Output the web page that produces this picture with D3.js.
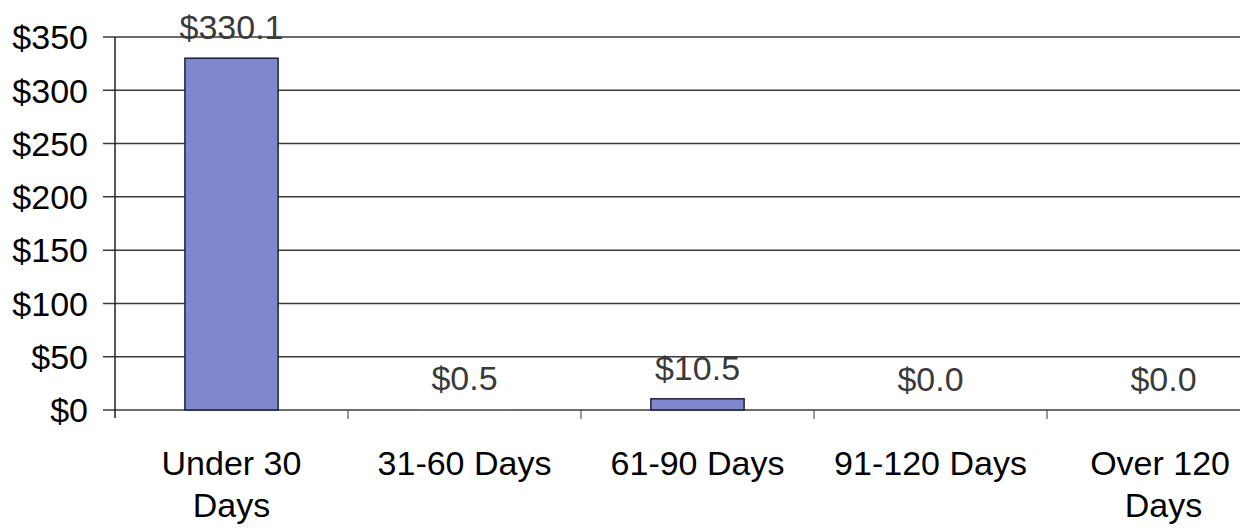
<!DOCTYPE html>
<html>
<head>
<meta charset="utf-8">
<script src="https://cdn.jsdelivr.net/npm/d3@7"></script>
<style>
  html, body { margin: 0; padding: 0; background: #fff; }
  svg { display: block; }
</style>
</head>
<body>
<svg id="chart" width="1251" height="531"></svg>
<script>
const categories = [['Under 30', 'Days'], ['31-60 Days'], ['61-90 Days'], ['91-120 Days'], ['Over 120', 'Days']];
const values = [330.1, 0.5, 10.5, 0.0, 0.0];
const yTicks = [0, 50, 100, 150, 200, 250, 300, 350];

const MARGIN = { top: 37, right: 11, bottom: 121, left: 115 };
const WIDTH = 1251 - MARGIN.left - MARGIN.right;
const HEIGHT = 531 - MARGIN.top - MARGIN.bottom;
// the scanned chart is cut off at the right, so the category bands run past the frame
const BAND_SPAN = 1165;

const BAR_FILL = '#7f88cc';
const BAR_STROKE = '#1e2040';
const GRID_COLOR = '#3a3a3a';
const FONT = 'Arial, "Liberation Sans", sans-serif';
const FONT_SIZE = '34px';

const svg = d3.select('#chart')
  .append('g')
  .attr('transform', `translate(${MARGIN.left},${MARGIN.top})`);

const x = d3.scaleBand()
  .domain(d3.range(categories.length))
  .range([0, BAND_SPAN])
  .padding(0);

const y = d3.scaleLinear()
  .domain([0, 350])
  .range([HEIGHT, 0]);

// horizontal gridlines, starting slightly left of the axis (tick marks)
svg.append('g')
  .selectAll('line')
  .data(yTicks)
  .enter()
  .append('line')
  .attr('x1', -12)
  .attr('x2', WIDTH)
  .attr('y1', d => y(d))
  .attr('y2', d => y(d))
  .attr('stroke', GRID_COLOR)
  .attr('stroke-width', 1.5);

// y axis labels
svg.append('g')
  .selectAll('text')
  .data(yTicks)
  .enter()
  .append('text')
  .attr('x', -27)
  .attr('y', d => y(d))
  .attr('dy', '0.36em')
  .attr('text-anchor', 'end')
  .style('font-family', FONT)
  .style('font-size', FONT_SIZE)
  .style('fill', '#000')
  .text(d => '$' + d);

// y axis line
svg.append('line')
  .attr('x1', 0).attr('x2', 0)
  .attr('y1', 0).attr('y2', HEIGHT + 8)
  .attr('stroke', '#222')
  .attr('stroke-width', 1.5);

// category separator ticks
svg.append('g')
  .selectAll('line')
  .data(d3.range(1, categories.length))
  .enter()
  .append('line')
  .attr('x1', d => x(d))
  .attr('x2', d => x(d))
  .attr('y1', HEIGHT)
  .attr('y2', HEIGHT + 9)
  .attr('stroke', '#555')
  .attr('stroke-width', 1.2);

// bars
const barW = x.bandwidth() * 0.4;
svg.append('g')
  .selectAll('rect')
  .data(values)
  .enter()
  .append('rect')
  .attr('x', (d, i) => x(i) + (x.bandwidth() - barW) / 2)
  .attr('y', d => y(d))
  .attr('width', barW)
  .attr('height', d => HEIGHT - y(d))
  .attr('fill', BAR_FILL)
  .attr('stroke', d => d > 1 ? BAR_STROKE : 'none')
  .attr('stroke-width', 1.5);

// value labels
svg.append('g')
  .selectAll('text')
  .data(values)
  .enter()
  .append('text')
  .attr('x', (d, i) => x(i) + x.bandwidth() / 2)
  .attr('y', d => y(d) - 19)
  .attr('text-anchor', 'middle')
  .style('font-family', FONT)
  .style('font-size', FONT_SIZE)
  .style('fill', '#3a3a3a')
  .text(d => '$' + d.toFixed(1));

// category labels, one text per line
const RIGHT_LIMIT = WIDTH - 10;
const lines = [];
categories.forEach((c, i) => c.forEach((t, j) => lines.push({ t, i, j })));

svg.append('g')
  .selectAll('text')
  .data(lines)
  .enter()
  .append('text')
  .attr('y', d => HEIGHT + 65 + d.j * 42)
  .attr('text-anchor', 'middle')
  .style('font-family', FONT)
  .style('font-size', FONT_SIZE)
  .style('fill', '#000')
  .text(d => d.t)
  .each(function(d) {
    // centre on the band, but pull a line back inside the frame if it would spill over
    const w = this.getComputedTextLength();
    let cx = x(d.i) + x.bandwidth() / 2;
    if (cx + w / 2 > RIGHT_LIMIT) cx = RIGHT_LIMIT - w / 2;
    d3.select(this).attr('x', cx);
  });
</script>
</body>
</html>
